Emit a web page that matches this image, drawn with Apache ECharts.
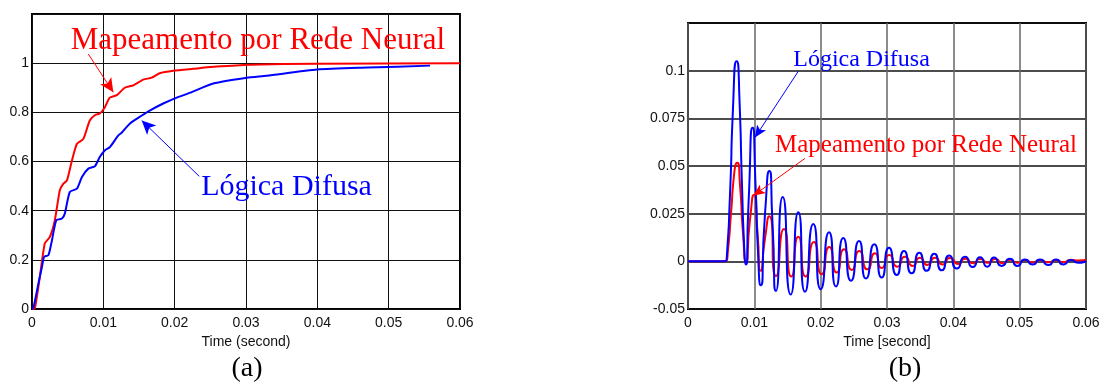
<!DOCTYPE html>
<html>
<head>
<meta charset="utf-8">
<script src="https://cdn.jsdelivr.net/npm/echarts@6/dist/echarts.min.js"></script>
<style>html,body{margin:0;padding:0;background:#fff}#chart{width:1109px;height:384px}</style>
</head>
<body>
<div id="chart"></div>
<script>
// (a) step response, [time, value]
const neuralA = [[0,0],[0.0004,0.003],[0.0011,0.131],[0.0018,0.267],[0.0025,0.293],[0.0032,0.361],[0.0039,0.483],[0.0044,0.51],[0.0049,0.523],[0.0056,0.604],[0.0063,0.672],[0.0072,0.692],[0.0081,0.767],[0.0089,0.79],[0.0095,0.795],[0.0102,0.82],[0.0109,0.86],[0.0119,0.87],[0.013,0.90],[0.0142,0.91],[0.0156,0.933],[0.0168,0.941],[0.0179,0.959],[0.0198,0.969],[0.0226,0.977],[0.0259,0.986],[0.0306,0.994],[0.04,0.998],[0.06,1.0]];
const fuzzyA = [[0,0],[0.0002,0.005],[0.0009,0.104],[0.0014,0.172],[0.0017,0.212],[0.0023,0.219],[0.0028,0.28],[0.0034,0.361],[0.0042,0.368],[0.0046,0.388],[0.0053,0.476],[0.0063,0.49],[0.007,0.537],[0.0079,0.571],[0.0088,0.58],[0.0095,0.618],[0.0102,0.645],[0.0109,0.658],[0.0121,0.706],[0.0126,0.718],[0.0137,0.754],[0.0154,0.787],[0.0165,0.807],[0.0184,0.836],[0.0203,0.86],[0.0222,0.88],[0.0254,0.917],[0.0301,0.941],[0.0329,0.949],[0.04,0.974],[0.047,0.982],[0.0558,0.99]];

// (b) oscillation, [time, value]
const neuralB = [[0,0],[0.00558,0],[0.00603,0.006],[0.00648,0.025],[0.00693,0.045],[0.00743,0.0517],[0.00784,0.04],[0.00829,0.015],[0.00874,0],[0.00935,0.022],[0.00995,0.0349],[0.01048,0.015],[0.01096,-0.005],[0.01161,0.012],[0.01226,0.0236],[0.01327,-0.0077],[0.01447,0.017],[0.01557,-0.008],[0.01663,0.0129],[0.01774,-0.008],[0.01899,0.0101],[0.02016,-0.0068],[0.0213,0.0075],[0.02242,-0.0059],[0.02352,0.0063],[0.02468,-0.0045],[0.02582,0.0054],[0.02703,-0.0042],[0.02819,0.0042],[0.0292,-0.0035],[0.03035,0.0033],[0.03155,-0.0028],[0.03271,0.0024],[0.03387,-0.0024],[0.03497,0.0019],[0.03607,-0.0019],[0.03724,0.0019],[0.0384,-0.0017],[0.0395,0.0017],[0.04075,-0.0014],[0.04176,0.0014],[0.04301,-0.001],[0.04402,0.0012],[0.04527,-0.0008],[0.04628,0.0012],[0.04744,-0.001],[0.04854,0.0008],[0.04967,-0.0008],[0.0508,0.0007],[0.05193,-0.0006],[0.05306,0.0007],[0.05427,-0.0005],[0.05548,0.0006],[0.05653,-0.0004],[0.05774,0.0008],[0.05879,0.0005],[0.06,0.0008]];
const fuzzyB = [[0,0],[0.00543,0],[0.00588,0.004],[0.00633,0.035],[0.00678,0.08],[0.00734,0.105],[0.00776,0.085],[0.00814,0.04],[0.00844,0.01],[0.00874,-0.0017],[0.00912,0.03],[0.00975,0.070],[0.01018,0.04],[0.01055,0.005],[0.01096,-0.0125],[0.01161,0.025],[0.01226,0.0474],[0.01274,0.02],[0.01327,-0.0155],[0.01428,0.0337],[0.01548,-0.0174],[0.01663,0.0257],[0.01764,-0.016],[0.01889,0.0196],[0.02001,-0.0146],[0.02126,0.0153],[0.02231,-0.0132],[0.02341,0.0123],[0.02457,-0.0102],[0.02578,0.0106],[0.02683,-0.009],[0.02809,0.0089],[0.0292,-0.0085],[0.0303,0.0071],[0.03146,-0.0072],[0.03256,0.0054],[0.03372,-0.0063],[0.03487,0.0045],[0.03598,-0.005],[0.03713,0.004],[0.03825,-0.0047],[0.03939,0.0031],[0.04051,-0.0038],[0.04176,0.0024],[0.04292,-0.003],[0.04402,0.0022],[0.04512,-0.0028],[0.04613,0.002],[0.04729,-0.0024],[0.04854,0.0014],[0.04964,-0.0024],[0.0508,0.001],[0.05196,-0.0016],[0.05306,0.001],[0.05432,-0.0019],[0.05548,0.001],[0.05658,-0.0016],[0.05774,0.0007],[0.05884,-0.0007],[0.06,0.0002]];

const xTicks = ['0', '0.01', '0.02', '0.03', '0.04', '0.05', '0.06'];
const yTicksA = ['0', '0.2', '0.4', '0.6', '0.8', '1', ''];
const yTicksB = ['-0.05', '0', '0.025', '0.05', '0.075', '0.1', ''];

const sans = "'Liberation Sans', Arial, sans-serif";
const serif = "'Liberation Serif', 'Times New Roman', serif";
const RED = '#ff0000', BLUE = '#0000ff';

function note(text, coord, color, size) {
  return {
    coord, symbol: 'circle', symbolSize: 0,
    label: { show: true, position: 'inside', formatter: text, color, fontFamily: serif, fontSize: size, align: 'center', verticalAlign: 'middle' }
  };
}
function arrows(list, color, head) {
  return {
    silent: true, symbol: ['none', 'arrow'], symbolSize: head,
    lineStyle: { color, width: 1, type: 'solid' },
    itemStyle: { color },
    label: { show: false },
    data: list.map(a => [{ coord: a[0] }, { coord: a[1] }])
  };
}
function xAx(grid, name) {
  return {
    type: 'value', gridIndex: grid, min: 0, max: 0.06, interval: 0.01,
    name, nameLocation: 'middle', nameGap: 22,
    nameTextStyle: { fontFamily: sans, fontSize: 14, color: '#111' },
    axisLine: { show: false }, axisTick: { show: false },
    axisLabel: { margin: 7, fontFamily: sans, fontSize: 14, color: '#111', formatter: (v, i) => xTicks[i] },
    splitLine: { show: true, lineStyle: { color: grid ? '#666' : '#111', width: grid ? 1.5 : 1 } }
  };
}
function yAx(grid, min, max, interval, ticks) {
  return {
    type: 'value', gridIndex: grid, min, max, interval,
    axisLine: { show: false }, axisTick: { show: false },
    axisLabel: { margin: 3, fontFamily: sans, fontSize: 14, color: '#111', formatter: (v, i) => ticks[i] },
    splitLine: { show: true, lineStyle: { color: '#111', width: grid ? 1.5 : 1 } }
  };
}

const chart = echarts.init(document.getElementById('chart'));
chart.setOption({
  animation: false,
  backgroundColor: '#fff',
  grid: [
    { left: 32, top: 14, width: 428, height: 295, show: true, borderColor: '#000', borderWidth: 2, backgroundColor: 'transparent' },
    { left: 688, top: 23, width: 398, height: 286, show: true, borderColor: '#000', borderWidth: 2, backgroundColor: 'transparent' }
  ],
  xAxis: [xAx(0, 'Time (second)'), xAx(1, 'Time [second]')],
  yAxis: [yAx(0, 0, 1.2, 0.2, yTicksA), yAx(1, -0.025, 0.125, 0.025, yTicksB)],
  graphic: [
    { type: 'text', x: 247, y: 369, style: { text: '(a)', font: '28px ' + serif, fill: '#000', align: 'center', verticalAlign: 'middle' } },
    { type: 'text', x: 905, y: 369, style: { text: '(b)', font: '28px ' + serif, fill: '#000', align: 'center', verticalAlign: 'middle' } }
  ],
  series: [
    {
      type: 'line', xAxisIndex: 0, yAxisIndex: 0, data: neuralA, showSymbol: false, smooth: 0.2,
      lineStyle: { color: RED, width: 2 }, itemStyle: { color: RED },
      markLine: arrows([[[0.00789, 1.0373], [0.0114, 0.8815]]], RED, [10, 14]),
      markPoint: { data: [note('Mapeamento por Rede Neural', [0.03168, 1.0913], RED, 31)] }
    },
    {
      type: 'line', xAxisIndex: 0, yAxisIndex: 0, data: fuzzyA, showSymbol: false, smooth: 0.2,
      lineStyle: { color: BLUE, width: 2 }, itemStyle: { color: BLUE },
      markLine: arrows([[[0.02345, 0.5396], [0.01538, 0.7667]]], BLUE, [10, 14]),
      markPoint: { data: [note('Lógica Difusa', [0.03568, 0.4949], BLUE, 30)] }
    },
    {
      type: 'line', xAxisIndex: 1, yAxisIndex: 1, data: neuralB, showSymbol: false, smooth: 0.8,
      lineStyle: { color: RED, width: 2 }, itemStyle: { color: RED },
      markLine: arrows([[[0.01764, 0.054], [0.00984, 0.0344]]], RED, [8, 12]),
      markPoint: { data: [note('Mapeamento por Rede Neural', [0.03588, 0.0607], RED, 25)] }
    },
    {
      type: 'line', xAxisIndex: 1, yAxisIndex: 1, data: fuzzyB, showSymbol: false, smooth: 0.8,
      lineStyle: { color: BLUE, width: 2 }, itemStyle: { color: BLUE },
      markLine: arrows([[[0.01663, 0.0997], [0.0101, 0.065]]], BLUE, [8, 12]),
      markPoint: { data: [note('Lógica Difusa', [0.02616, 0.106], BLUE, 24)] }
    }
  ]
});
</script>
</body>
</html>
